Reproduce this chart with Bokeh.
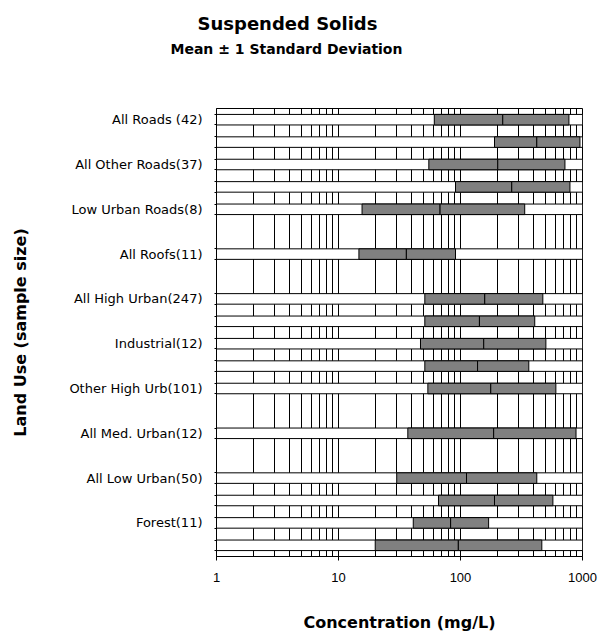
from bokeh.plotting import figure
from bokeh.models import Range1d, FixedTicker, Title
from bokeh.embed import file_html
from bokeh.resources import INLINE

# ---- data -------------------------------------------------------------
# 20 category slots (top to bottom); only every other one is labelled
labels = ["All Roads (42)", "", "All Other Roads(37)", "", "Low Urban Roads(8)", "",
          "All Roofs(11)", "", "All High Urban(247)", "", "Industrial(12)", "",
          "Other High Urb(101)", "", "All Med. Urban(12)", "", "All Low Urban(50)", "",
          "Forest(11)", ""]

# slots that carry a bar, with mean - 1 SD, mean, mean + 1 SD (mg/L)
bar_slot = [0, 1, 2, 3, 4, 6, 8, 9, 10, 11, 12, 14, 16, 17, 18, 19]
low = [61, 190, 55, 91, 15.6, 14.7, 51, 51, 47, 51, 54, 37, 30, 66, 41, 20]
mean = [222, 422, 202, 263, 68, 36, 158, 143, 155, 138, 177, 187, 112, 190, 83, 96]
high = [774, 953, 718, 789, 336, 91, 473, 406, 501, 363, 605, 885, 422, 572, 170, 464]

x_ticks = [1, 10, 100, 1000]
x_tick_labels = ["1", "10", "100", "1000"]
x_minor = [m * d for d in (1, 10, 100) for m in range(2, 10)]

X_MIN, X_MAX = 1, 1000
BAR_H = 0.47

# ---- figure -----------------------------------------------------------
p = figure(width=601, height=637, x_axis_type="log",
           x_range=Range1d(X_MIN, X_MAX),
           y_range=Range1d(len(labels) - 0.5, -0.5),
           output_backend="svg", toolbar_location=None, title=None,
           min_border_left=216, min_border_right=19,
           min_border_top=108, min_border_bottom=81)
p.background_fill_color = "white"
p.border_fill_color = "white"
p.outline_line_color = "black"
p.outline_line_width = 1

# blank spacer between the titles and the plot frame
spacer = Title(text="\u00a0", text_color="white", text_font_size="14px", standoff=31)
sub = Title(text="Mean \u00b1 1 Standard Deviation", align="left", offset=-46,
            text_font="DejaVu Sans", text_font_size="14px", text_font_style="bold",
            text_color="black", standoff=5)
main = Title(text="Suspended Solids", align="left", offset=-19,
             text_font="DejaVu Sans", text_font_size="18px", text_font_style="bold",
             text_color="black", standoff=6)
p.add_layout(spacer, "above")
p.add_layout(sub, "above")
p.add_layout(main, "above")

# background bands, then the +-1 SD boxes split at the mean
p.hbar(y=bar_slot, left=X_MIN, right=X_MAX, height=BAR_H,
       fill_color="white", line_color="black", line_width=1)
p.hbar(y=bar_slot, left=low, right=mean, height=BAR_H,
       fill_color="#808080", line_color="black", line_width=1)
p.hbar(y=bar_slot, left=mean, right=high, height=BAR_H,
       fill_color="#808080", line_color="black", line_width=1)

# grid
xt = FixedTicker(ticks=x_ticks, minor_ticks=x_minor)
p.xgrid.ticker = xt
p.xgrid.grid_line_color = "black"
p.xgrid.minor_grid_line_color = "black"
p.xgrid.grid_line_width = 1
p.xgrid.minor_grid_line_width = 1
p.ygrid.grid_line_color = None

# x axis
p.xaxis.ticker = xt
p.xaxis.major_label_overrides = {v: t for v, t in zip(x_ticks, x_tick_labels)}
p.xaxis.major_tick_out = 4
p.xaxis.major_tick_in = 0
p.xaxis.minor_tick_out = 0
p.xaxis.minor_tick_in = 0
p.xaxis.major_label_standoff = 12
p.xaxis.major_label_text_font = "Liberation Sans"
p.xaxis.major_label_text_font_size = "13px"
p.xaxis.major_label_text_color = "black"
p.xaxis.axis_line_color = "black"
p.xaxis.major_tick_line_color = "black"
p.xaxis.axis_label = "Concentration (mg/L)"
p.xaxis.axis_label_text_font = "DejaVu Sans"
p.xaxis.axis_label_text_font_size = "16px"
p.xaxis.axis_label_text_font_style = "bold"
p.xaxis.axis_label_text_color = "black"
p.xaxis.axis_label_standoff = 28

# y axis
label_slots = [i for i, t in enumerate(labels) if t]
edges = [s + d for s in bar_slot for d in (-BAR_H / 2, BAR_H / 2)]
p.yaxis.ticker = FixedTicker(ticks=label_slots, minor_ticks=edges)
p.yaxis.major_label_overrides = {i: labels[i] for i in label_slots}
p.yaxis.major_tick_line_color = None
p.yaxis.major_tick_out = 0
p.yaxis.major_tick_in = 0
p.yaxis.minor_tick_out = 2
p.yaxis.minor_tick_in = 0
p.yaxis.minor_tick_line_color = "black"
p.yaxis.axis_line_color = "black"
p.yaxis.major_label_standoff = 12
p.yaxis.major_label_text_font = "DejaVu Sans"
p.yaxis.major_label_text_font_size = "13px"
p.yaxis.major_label_text_color = "black"
p.yaxis.axis_label = "Land Use (sample size)"
p.yaxis.axis_label_text_font = "DejaVu Sans"
p.yaxis.axis_label_text_font_size = "16px"
p.yaxis.axis_label_text_font_style = "bold"
p.yaxis.axis_label_text_color = "black"
p.yaxis.axis_label_standoff = 36

open("out.html", "w").write(file_html(p, INLINE))
